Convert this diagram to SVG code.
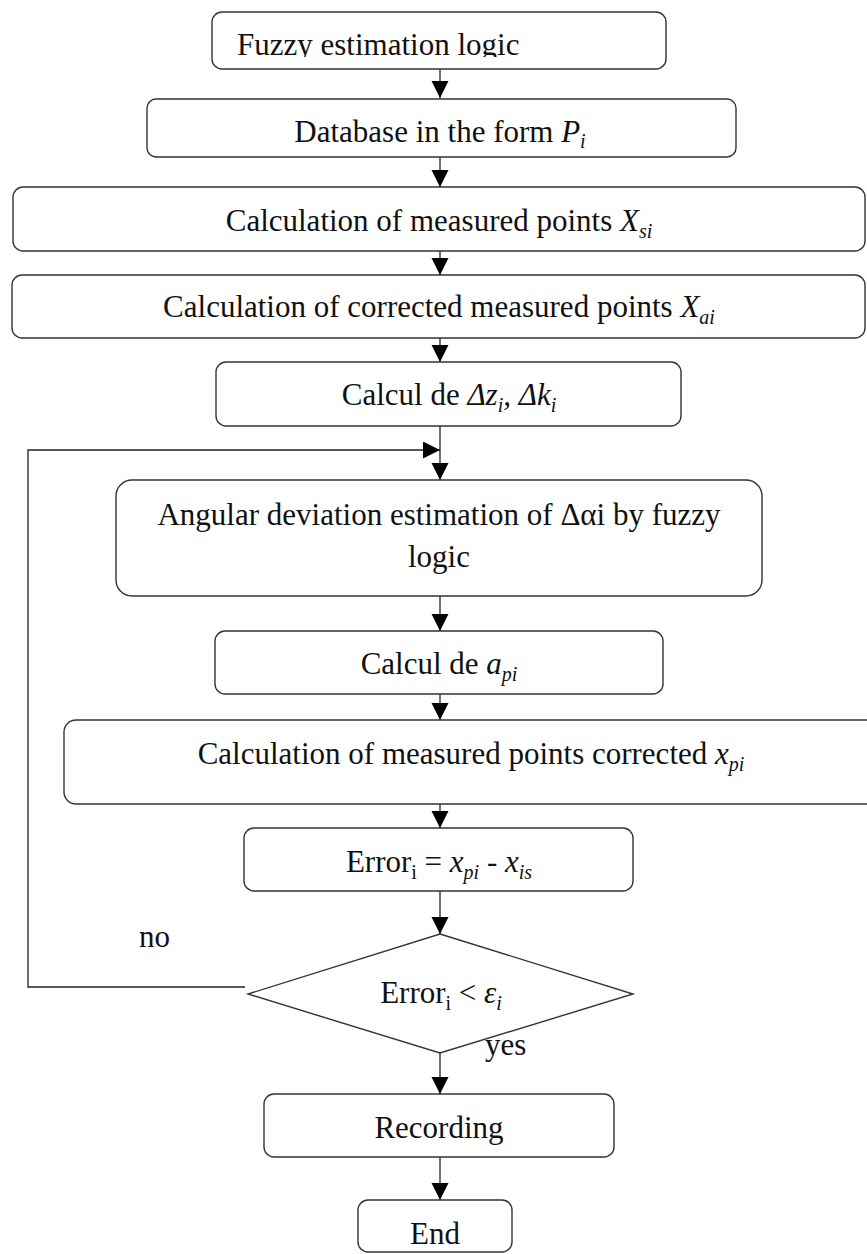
<svg xmlns="http://www.w3.org/2000/svg" width="867" height="1254" viewBox="0 0 867 1254">
<style>
.box{fill:#fff;stroke:#333;stroke-width:1.4}
.t{font-family:"Liberation Serif","Times New Roman",serif;font-size:31px;fill:#111;text-anchor:middle}
.l{text-anchor:start}
.it{font-style:italic}
.sb{font-size:20px}
.c{fill:none;stroke:#222;stroke-width:1.3}
</style>
<defs>
<marker id="ah" markerUnits="userSpaceOnUse" markerWidth="18" markerHeight="18" refX="17" refY="8.5" orient="auto">
<path d="M0,0 L17,8.5 L0,17 z" fill="#000"/>
</marker>
<clipPath id="clip1"><rect x="212" y="12" width="454" height="45"/></clipPath>
</defs>

<g id="connectors">
<line class="c" x1="440" y1="69" x2="440" y2="98" marker-end="url(#ah)"/>
<line class="c" x1="440" y1="157" x2="440" y2="187" marker-end="url(#ah)"/>
<line class="c" x1="440" y1="251" x2="440" y2="275" marker-end="url(#ah)"/>
<line class="c" x1="440" y1="338" x2="440" y2="362" marker-end="url(#ah)"/>
<line class="c" x1="440" y1="426" x2="440" y2="480" marker-end="url(#ah)"/>
<line class="c" x1="440" y1="596" x2="440" y2="631" marker-end="url(#ah)"/>
<line class="c" x1="440" y1="694" x2="440" y2="720" marker-end="url(#ah)"/>
<line class="c" x1="440" y1="804" x2="440" y2="828" marker-end="url(#ah)"/>
<line class="c" x1="440" y1="891" x2="440" y2="934" marker-end="url(#ah)"/>
<line class="c" x1="440" y1="1053" x2="440" y2="1094" marker-end="url(#ah)"/>
<line class="c" x1="440" y1="1157" x2="440" y2="1200" marker-end="url(#ah)"/>
<polyline class="c" points="245,987 28,987 28,450 440,450" marker-end="url(#ah)"/>
<text class="t l" x="139" y="947">no</text>
<text class="t l" x="485" y="1055">yes</text>
</g>

<g id="n1">
<rect class="box" x="212" y="12" width="454" height="57" rx="10"/>
<text class="t l" x="237" y="55" clip-path="url(#clip1)">Fuzzy estimation logic</text>
</g>

<g id="n2">
<rect class="box" x="147" y="99" width="589" height="58" rx="9"/>
<text class="t" x="440" y="142">Database in the form <tspan class="it">P</tspan><tspan class="it sb" dy="6">i</tspan></text>
</g>

<g id="n3">
<rect class="box" x="13" y="187" width="852" height="64" rx="10"/>
<text class="t" x="439" y="231">Calculation of measured points <tspan class="it">X</tspan><tspan class="it sb" dy="7">si</tspan></text>
</g>

<g id="n4">
<rect class="box" x="12" y="275" width="853" height="63" rx="10"/>
<text class="t" x="439" y="317">Calculation of corrected measured points <tspan class="it">X</tspan><tspan class="it sb" dy="7">ai</tspan></text>
</g>

<g id="n5">
<rect class="box" x="216" y="362" width="465" height="64" rx="10"/>
<text class="t" x="449" y="405">Calcul de <tspan class="it">Δz</tspan><tspan class="it sb" dy="7">i</tspan><tspan class="it" dy="-7">, Δk</tspan><tspan class="it sb" dy="7">i</tspan></text>
</g>

<g id="n6">
<rect class="box" x="116" y="480" width="646" height="116" rx="16"/>
<text class="t" x="439" y="525">Angular deviation estimation of Δαi by fuzzy</text>
<text class="t" x="439" y="567">logic</text>
</g>

<g id="n7">
<rect class="box" x="215" y="631" width="448" height="63" rx="10"/>
<text class="t" x="439" y="674">Calcul de <tspan class="it">a</tspan><tspan class="it sb" dy="7">pi</tspan></text>
</g>

<g id="n8">
<rect class="box" x="64" y="720" width="820" height="84" rx="12"/>
<text class="t" x="471" y="764">Calculation of measured points corrected <tspan class="it">x</tspan><tspan class="it sb" dy="7">pi</tspan></text>
</g>

<g id="n9">
<rect class="box" x="244" y="828" width="389" height="63" rx="10"/>
<text class="t" x="439" y="872">Error<tspan class="sb" dy="7">i</tspan><tspan dy="-7"> = </tspan><tspan class="it">x</tspan><tspan class="it sb" dy="7">pi</tspan><tspan dy="-7"> - </tspan><tspan class="it">x</tspan><tspan class="it sb" dy="7">is</tspan></text>
</g>

<g id="n10">
<polygon class="box" points="440,934 633,994 440,1053 248,994"/>
<text class="t" x="441" y="1003">Error<tspan class="sb" dy="7">i</tspan><tspan dy="-7"> &lt; </tspan><tspan class="it">ε</tspan><tspan class="it sb" dy="7">i</tspan></text>
</g>

<g id="n11">
<rect class="box" x="264" y="1094" width="350" height="63" rx="10"/>
<text class="t" x="439" y="1138">Recording</text>
</g>

<g id="n12">
<rect class="box" x="358" y="1200" width="154" height="52" rx="10"/>
<text class="t" x="435" y="1244">End</text>
</g>
</svg>
